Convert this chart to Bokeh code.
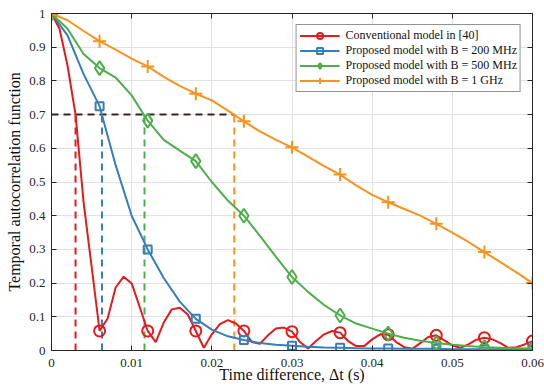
from bokeh.plotting import figure
from bokeh.models import LinearAxis, FixedTicker, Legend, LegendItem, Range1d
from bokeh.embed import file_html
from bokeh.resources import INLINE

# ---------------- data ----------------
t_red = [0.000, 0.001, 0.002, 0.003, 0.004, 0.005, 0.006, 0.007, 0.008, 0.009,
         0.010, 0.011, 0.012, 0.013, 0.014, 0.015, 0.016, 0.017, 0.018, 0.019,
         0.020, 0.021, 0.022, 0.023, 0.024, 0.025, 0.026, 0.027, 0.028, 0.029,
         0.030, 0.031, 0.032, 0.033, 0.034, 0.035, 0.036, 0.037, 0.038, 0.039,
         0.040, 0.041, 0.042, 0.043, 0.044, 0.045, 0.046, 0.047, 0.048, 0.049,
         0.050, 0.051, 0.052, 0.053, 0.054, 0.055, 0.056, 0.057, 0.058, 0.059,
         0.060]
conventional = [1.0, 0.955, 0.845, 0.70, 0.44, 0.25, 0.058, 0.095, 0.187, 0.219,
                0.199, 0.129, 0.058, 0.025, 0.083, 0.122, 0.127, 0.107, 0.058, 0.008,
                0.048, 0.078, 0.090, 0.080, 0.058, 0.025, 0.020, 0.045, 0.065, 0.068,
                0.056, 0.025, 0.006, 0.028, 0.048, 0.058, 0.053, 0.028, 0.013, 0.013,
                0.033, 0.048, 0.047, 0.025, 0.010, 0.005, 0.022, 0.040, 0.045, 0.030,
                0.015, 0.008, 0.018, 0.032, 0.038, 0.033, 0.022, 0.008, 0.010, 0.018,
                0.028]

t_prop = [0.000, 0.002, 0.004, 0.006, 0.008, 0.010, 0.012, 0.014, 0.016, 0.018,
          0.020, 0.022, 0.024, 0.026, 0.028, 0.030, 0.032, 0.034, 0.036, 0.038,
          0.040, 0.042, 0.044, 0.046, 0.048, 0.050, 0.052, 0.054, 0.056, 0.058,
          0.060]
b200 = [1.0, 0.935, 0.82, 0.725, 0.55, 0.40, 0.30, 0.215, 0.145, 0.094,
        0.062, 0.042, 0.031, 0.022, 0.017, 0.014, 0.011, 0.009, 0.008, 0.007,
        0.006, 0.006, 0.005, 0.005, 0.005, 0.004, 0.004, 0.004, 0.004, 0.004,
        0.004]
b500 = [1.0, 0.955, 0.88, 0.838, 0.81, 0.757, 0.682, 0.625, 0.593, 0.562,
        0.50, 0.445, 0.40, 0.34, 0.278, 0.218, 0.174, 0.135, 0.104, 0.080,
        0.065, 0.050, 0.038, 0.029, 0.022, 0.017, 0.013, 0.010, 0.008, 0.007,
        0.006]
b1g = [1.0, 0.98, 0.948, 0.918, 0.893, 0.866, 0.843, 0.812, 0.785, 0.762,
       0.742, 0.712, 0.68, 0.65, 0.625, 0.603, 0.575, 0.547, 0.522, 0.49,
       0.462, 0.44, 0.42, 0.40, 0.376, 0.35, 0.322, 0.292, 0.262, 0.232,
       0.20]

threshold_level = 0.7
threshold_x = [0.003, 0.0063, 0.0116, 0.0228]

labels = ["Conventional model in [40]",
          "Proposed model with B = 200 MHz",
          "Proposed model with B = 500 MHz",
          "Proposed model with B = 1 GHz"]

x_ticks = [0, 0.01, 0.02, 0.03, 0.04, 0.05, 0.06]
x_tick_labels = ["0", "0.01", "0.02", "0.03", "0.04", "0.05", "0.06"]
y_ticks = [0, 0.1, 0.2, 0.3, 0.4, 0.5, 0.6, 0.7, 0.8, 0.9, 1]
y_tick_labels = ["0", "0.1", "0.2", "0.3", "0.4", "0.5", "0.6", "0.7", "0.8", "0.9", "1"]

# ---------------- style ----------------
RED, BLUE, GREEN, ORANGE = "#e41a1c", "#377eb8", "#4daf4a", "#f7931e"
DARK = "#3a2323"
AX = "#262626"
FONT = "Liberation Serif"

p = figure(width=544, height=387, x_range=Range1d(0, 0.06), y_range=Range1d(0, 1),
           output_backend="svg", toolbar_location=None,
           min_border_left=51, min_border_right=12, min_border_top=13, min_border_bottom=37)
p.background_fill_color = "white"
p.border_fill_color = "white"
p.outline_line_color = AX
p.outline_line_width = 1

for ax, ticks, tl in ((p.xaxis[0], x_ticks, x_tick_labels), (p.yaxis[0], y_ticks, y_tick_labels)):
    ax.ticker = FixedTicker(ticks=ticks)
    ax.major_label_overrides = {t: l for t, l in zip(ticks, tl)}
    ax.major_tick_in = 5
    ax.major_tick_out = 0
    ax.minor_tick_line_color = None
    ax.axis_line_color = AX
    ax.major_tick_line_color = AX
    ax.major_label_text_font = FONT
    ax.major_label_text_font_size = "13px"
    ax.major_label_text_color = AX
    ax.axis_label_text_font = FONT
    ax.axis_label_text_font_size = "16px"
    ax.axis_label_text_font_style = "normal"
    ax.axis_label_text_color = "#111111"

p.xaxis.axis_label = "Time difference, \u0394t (s)"
p.yaxis.axis_label = "Temporal autocorrelation function"
p.xaxis.major_label_standoff = 8
p.xaxis.axis_label_standoff = -4
p.yaxis.major_label_standoff = 6
p.yaxis.axis_label_standoff = 3

for loc, ticks in (("above", x_ticks), ("right", y_ticks)):
    a = LinearAxis(ticker=FixedTicker(ticks=ticks), major_label_text_font_size="0px",
                   major_label_standoff=0, major_tick_in=5, major_tick_out=0,
                   minor_tick_line_color=None, axis_line_color=AX, major_tick_line_color=AX,
                   major_label_text_alpha=0)
    p.add_layout(a, loc)

p.xgrid.grid_line_color = "#e2e2e2"
p.ygrid.grid_line_color = "#e2e2e2"
p.xgrid.ticker = FixedTicker(ticks=x_ticks)
p.ygrid.ticker = FixedTicker(ticks=y_ticks)

# threshold dashed lines
p.segment(x0=threshold_x, y0=[0] * 4, x1=threshold_x, y1=[threshold_level] * 4,
          line_color=[RED, BLUE, GREEN, ORANGE], line_width=2, line_dash="7 5")
p.segment(x0=[0], y0=[threshold_level], x1=[max(threshold_x)], y1=[threshold_level],
          line_color=DARK, line_width=2, line_dash="7 5")

items = []
series = [
    (t_red, conventional, RED, "circle", 11, 6),
    (t_prop, b200, BLUE, "square", 8, 3),
    (t_prop, b500, GREEN, "diamond", 14, 3),
    (t_prop, b1g, ORANGE, "cross", 13, 3),
]
for (tx, ty, col, mk, sz, step), lab in zip(series, labels):
    lr = p.line(tx, ty, line_color=col, line_width=2)
    sr = p.scatter(tx[::step], ty[::step], marker=mk, size=sz, line_color=col,
                   line_width=2, fill_color=None)
    items.append(LegendItem(label=lab, renderers=[lr, sr]))

legend = Legend(items=items, location="top_right", margin=11, padding=3,
                glyph_width=40, glyph_height=15, label_height=14,
                spacing=0, label_standoff=6, label_text_font=FONT,
                label_text_font_size="12px", label_text_color="#111111",
                border_line_color=AX, border_line_width=1,
                background_fill_color="white", background_fill_alpha=1)
p.add_layout(legend, "center")

open("out.html", "w").write(file_html(p, INLINE))
